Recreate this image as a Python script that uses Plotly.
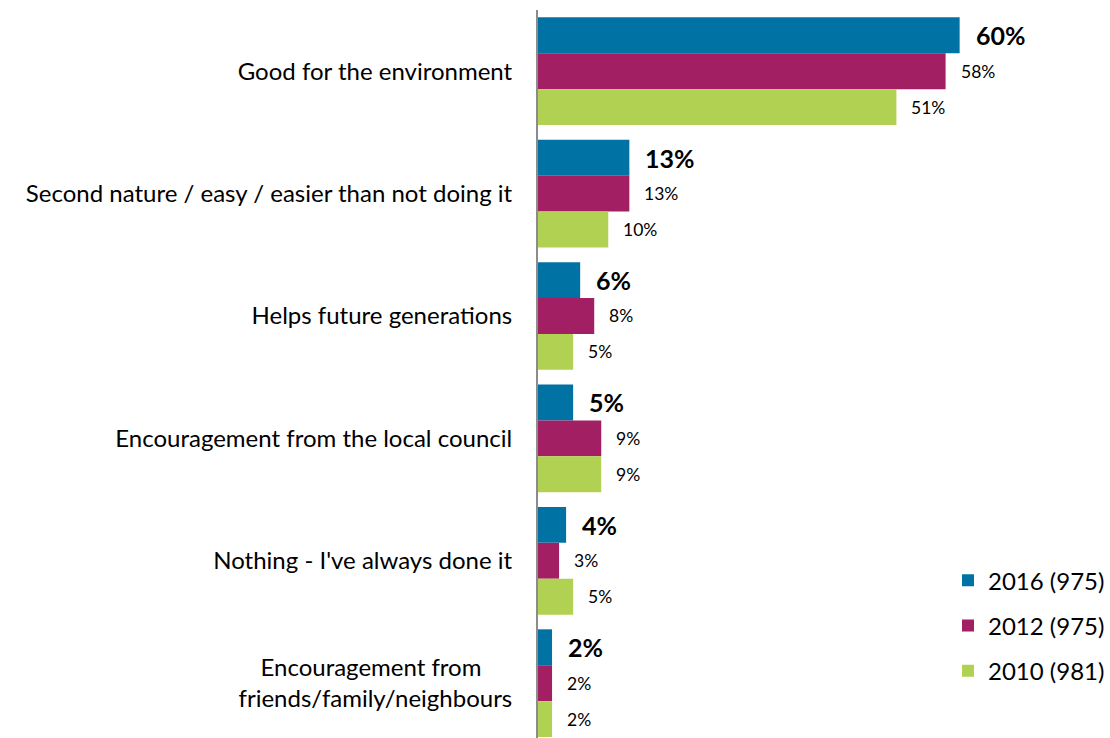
import plotly.graph_objects as go

categories = [
    "Good for the environment",
    "Second nature / easy / easier than not doing it",
    "Helps future generations",
    "Encouragement from the local council",
    "Nothing - I've always done it",
    "Encouragement from\u00a0\u00a0\u00a0\u00a0\u00a0<br>friends/family/neighbours",
]
series_names = ["2016 (975)", "2012 (975)", "2010 (981)"]
values_2016 = [60, 13, 6, 5, 4, 2]
values_2012 = [58, 13, 8, 9, 3, 2]
values_2010 = [51, 10, 5, 9, 5, 2]

series_values = [values_2016, values_2012, values_2010]
colors = ["#0073A4", "#A11F62", "#B1D152"]
FONT = "Lato, Carlito, Calibri, sans-serif"
BARGAP = 0.12

fig = go.Figure()
for i, (name, vals, col) in enumerate(zip(series_names, series_values, colors)):
    fig.add_trace(go.Bar(
        y=categories, x=vals, orientation="h", name=name,
        marker=dict(color=col, line=dict(width=0)),
        legendgroup=name, hoverinfo="skip",
    ))

# value labels placed just right of each bar end
n = len(series_values)
bar_w = (1 - BARGAP) / n
annotations = []
for k, vals in enumerate(series_values):
    off = (k - (n - 1) / 2) * bar_w
    for j, v in enumerate(vals):
        bold = k == 0
        annotations.append(dict(
            x=v, y=j + off, xref="x", yref="y",
            text=f"<b>{v}%</b>" if bold else f"{v}%",
            showarrow=False, xanchor="left", yanchor="middle",
            xshift=14 if bold else 13,
            font=dict(size=25 if bold else 17.5, color="#000", family=FONT),
        ))

fig.update_layout(
    width=1110, height=738,
    margin=dict(l=538, r=0, t=10, b=0),
    paper_bgcolor="white", plot_bgcolor="white",
    barmode="group", bargap=BARGAP, bargroupgap=0,
    font=dict(family=FONT, color="#000"),
    annotations=annotations,
    showlegend=True,
    legend=dict(
        x=0.726, y=0.247, xanchor="left", yanchor="top",
        traceorder="grouped", tracegroupgap=11,
        font=dict(size=24, family=FONT, color="#000"),
        bgcolor="rgba(0,0,0,0)",
    ),
    xaxis=dict(range=[0, 80.4], visible=False, showgrid=False, zeroline=False),
    yaxis=dict(
        range=[5.448, -0.5], showgrid=False, zeroline=False,
        showline=True, linecolor="#8c8c8c", linewidth=2,
        ticks="", ticklabelstandoff=19,
        tickfont=dict(size=24, family=FONT, color="#000"),
    ),
)

fig.write_html("out.html")
